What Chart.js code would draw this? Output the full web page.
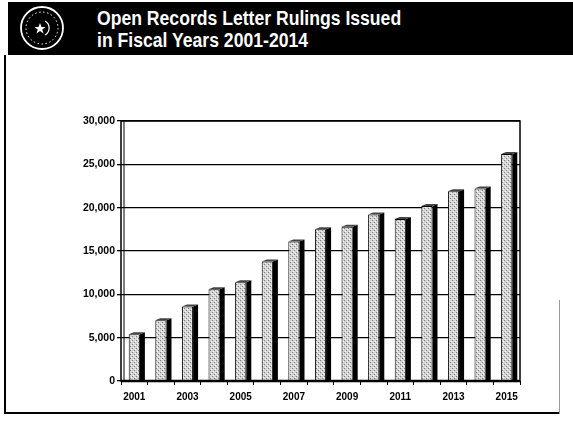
<!DOCTYPE html>
<html>
<head>
<meta charset="utf-8">
<script src="https://cdn.jsdelivr.net/npm/chart.js@4.4.1/dist/chart.umd.min.js"></script>
<style>
    body { margin: 0; background: #fff; font-family: "Liberation Sans", Arial, sans-serif; }
    #page { position: relative; width: 573px; height: 435px; overflow: hidden; }
    #header { position: absolute; left: 8px; top: 2px; width: 565px; height: 53px; background: #000; }
    #seal { position: absolute; left: 11px; top: 3px; }
    #title { position: absolute; left: 89px; top: 5px; color: #fff; font-family: "Liberation Sans", Arial, sans-serif;
             font-weight: bold; font-size: 20px; line-height: 22px; white-space: nowrap;
             transform: scaleX(0.88); transform-origin: left top; }
    #frame { position: absolute; left: 4px; top: 55px; width: 553px; height: 357px; border-left: 2px solid #000; border-bottom: 2px solid #000; }
    #frameRight { position: absolute; left: 559px; top: 300px; width: 1px; height: 114px; background: #999; }
    #chartBox { position: absolute; left: 0; top: 100px; width: 540px; height: 310px; }
</style>
</head>
<body>
<div id="page">
    <div id="header">
        <svg id="seal" width="46" height="46" viewBox="0 0 46 46">
            <circle cx="23" cy="23" r="21" fill="none" stroke="#fff" stroke-width="1.8"/>
            <circle cx="23" cy="23" r="16" fill="none" stroke="#fff" stroke-width="1" stroke-dasharray="1.5 2.5"/>
            <path d="M26 16 a8 8 0 0 1 0 14" fill="none" stroke="#fff" stroke-width="1.2"/>
            <polygon points="21,18 22.5,22 26.5,22 23.3,24.5 24.5,28.5 21,26 17.5,28.5 18.7,24.5 15.5,22 19.5,22" fill="#fff"/>
        </svg>
        <div id="title">Open Records Letter Rulings Issued<br>in Fiscal Years 2001-2014</div>
    </div>
    <div id="frame"></div>
    <div id="frameRight"></div>
    <div id="chartBox"><canvas id="rulingsChart"></canvas></div>
</div>

<script>
const years = ['2001', '2002', '2003', '2004', '2005', '2006', '2007', '2008',
               '2009', '2010', '2011', '2012', '2013', '2014', '2015'];
const rulings = [5400, 7000, 8600, 10600, 11400, 13800, 16100, 17500,
                 17800, 19200, 18700, 20200, 21900, 22200, 26200];
const yTicks = [0, 5000, 10000, 15000, 20000, 25000, 30000];

// stippled grey fill like the scanned bars
function makeStipple() {
    const c = document.createElement('canvas');
    c.width = 4;
    c.height = 4;
    const g = c.getContext('2d');
    g.fillStyle = '#d4d4d4';
    g.fillRect(0, 0, 4, 4);
    g.fillStyle = '#7c7c7c';
    g.fillRect(0, 0, 1, 1);
    g.fillRect(2, 2, 1, 1);
    g.fillStyle = '#ffffff';
    g.fillRect(1, 3, 1, 1);
    g.fillRect(3, 1, 1, 1);
    return g.createPattern(c, 'repeat');
}

// dark side and top cap drawn next to each bar, plus the plot box
const depthPlugin = {
    id: 'depth',
    afterDatasetsDraw(chart) {
        const ctx = chart.ctx;
        const d = 5, h = 2;
        ctx.save();
        chart.getDatasetMeta(0).data.forEach((bar) => {
            const right = bar.x + bar.width / 2;
            const left = bar.x - bar.width / 2;
            ctx.fillStyle = '#000';
            ctx.beginPath();
            ctx.moveTo(right, bar.y);
            ctx.lineTo(right + d, bar.y - h);
            ctx.lineTo(right + d, bar.base);
            ctx.lineTo(right, bar.base);
            ctx.closePath();
            ctx.fill();
            ctx.fillStyle = '#444';
            ctx.beginPath();
            ctx.moveTo(left, bar.y);
            ctx.lineTo(left + d, bar.y - h);
            ctx.lineTo(right + d, bar.y - h);
            ctx.lineTo(right, bar.y);
            ctx.closePath();
            ctx.fill();
        });
        const a = chart.chartArea;
        ctx.strokeStyle = '#000';
        ctx.lineWidth = 1.5;
        ctx.strokeRect(a.left, a.top, a.right - a.left, a.bottom - a.top);
        ctx.lineWidth = 1;
        ctx.beginPath();
        ctx.moveTo(a.left + 3, a.top);
        ctx.lineTo(a.left + 3, a.bottom);
        ctx.stroke();
        ctx.lineWidth = 2.5;
        ctx.beginPath();
        ctx.moveTo(a.left, a.bottom);
        ctx.lineTo(a.right, a.bottom);
        ctx.stroke();
        ctx.restore();
    }
};

function initializeRulingsChart() {
    const ctx = document.getElementById('rulingsChart').getContext('2d');
    new Chart(ctx, {
        type: 'bar',
        data: {
            labels: years,
            datasets: [{
                label: 'Letter Rulings',
                data: rulings,
                backgroundColor: makeStipple(),
                borderColor: '#000',
                borderWidth: 1,
                borderSkipped: 'bottom',
                barPercentage: 0.42,
                categoryPercentage: 1.0
            }]
        },
        options: {
            responsive: true,
            maintainAspectRatio: false,
            animation: false,
            layout: { padding: { top: 21, right: 20, bottom: 0, left: 0 } },
            plugins: {
                legend: { display: false },
                tooltip: { enabled: false }
            },
            scales: {
                x: {
                    afterFit: (scale) => { scale.height = 29; },
                    grid: { drawOnChartArea: false, color: '#000', tickLength: 4, lineWidth: 1 },
                    border: { display: false },
                    ticks: {
                        autoSkip: false,
                        maxRotation: 0,
                        padding: 6,
                        color: '#000',
                        font: { family: '"Liberation Sans", Arial', size: 10, weight: 'bold' },
                        callback: function (value, index) {
                            return index % 2 === 0 ? this.getLabelForValue(value) : '';
                        }
                    }
                },
                y: {
                    min: yTicks[0],
                    max: yTicks[yTicks.length - 1],
                    afterFit: (scale) => { scale.width = 121; },
                    afterBuildTicks: (scale) => { scale.ticks = yTicks.map(v => ({ value: v })); },
                    grid: { color: '#000', lineWidth: 1.3, tickLength: 4 },
                    border: { display: false },
                    ticks: {
                        padding: 2,
                        color: '#000',
                        font: { family: '"Liberation Sans", Arial', size: 10.5, weight: 'bold' },
                        callback: (value) => value.toLocaleString('en-US')
                    }
                }
            }
        },
        plugins: [depthPlugin]
    });
}

document.addEventListener('DOMContentLoaded', () => {
    initializeRulingsChart();
});
</script>
</body>
</html>
